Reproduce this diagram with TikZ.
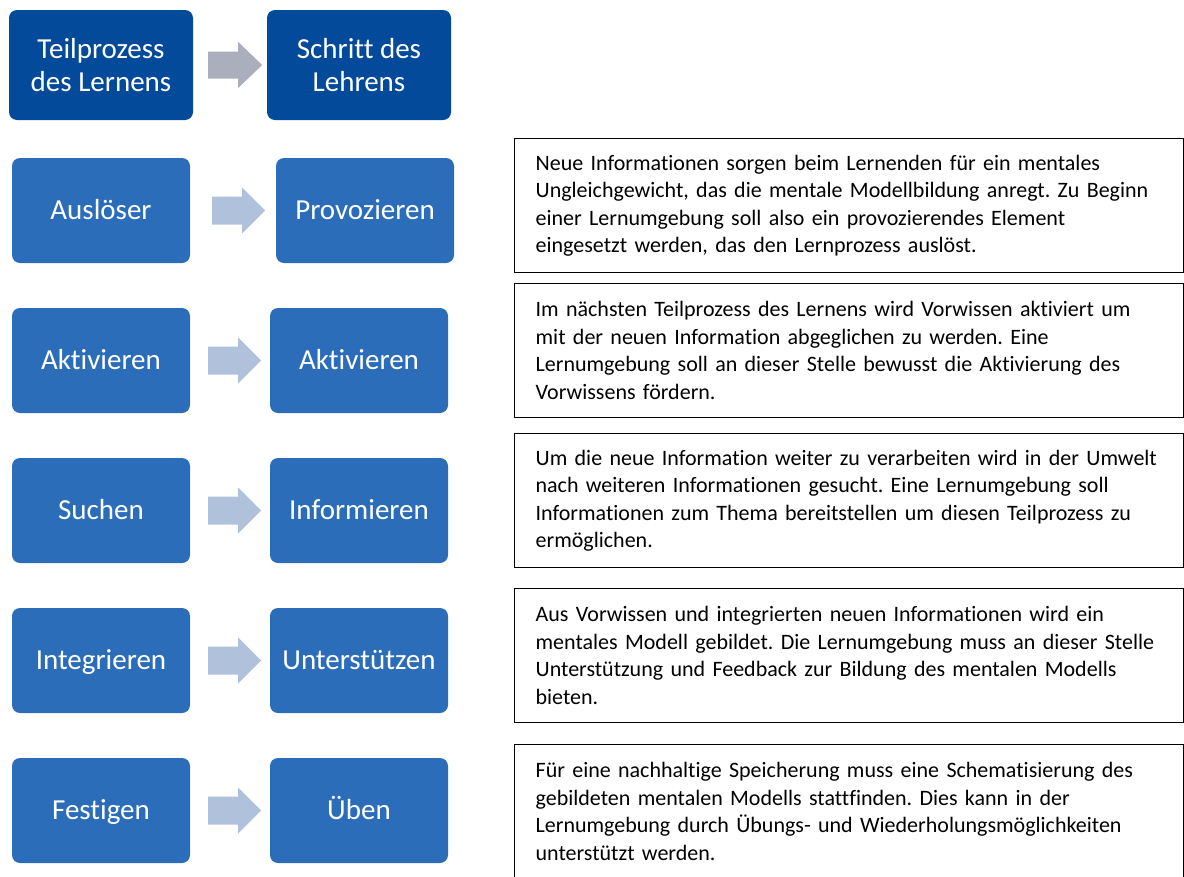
\documentclass[tikz,border=0pt]{standalone}
\usepackage{fontspec}
\setmainfont{Carlito}[Ligatures=NoCommon]
\usetikzlibrary{calc}
\frenchspacing
\definecolor{headblue}{RGB}{3,74,154}
\definecolor{stepblue}{RGB}{44,109,186}
\definecolor{headarrow}{RGB}{171,175,189}
\definecolor{steparrow}{RGB}{176,193,220}
\tikzset{
  bluebox/.style={rounded corners=8pt,text=white,align=center,inner sep=0pt,
    font=\fontsize{29}{33}\selectfont},
  stepbox/.style={bluebox,fill=stepblue,minimum width=178pt,minimum height=105pt,
    text height=18.6pt,text depth=0pt},
  headbox/.style={bluebox,fill=headblue,minimum width=184pt,minimum height=110pt},
  infobox/.style={draw=black,line width=1.3pt,anchor=north west,align=left,
    text width=627pt,inner xsep=21pt,inner ysep=0pt,minimum height=134pt,
    font=\fontsize{22}{27.5}\selectfont},
}
\begin{document}
\begin{tikzpicture}[x=1pt,y=-1pt]
  \useasboundingbox (0,0) rectangle (1184,876);
  % Kopfzeile
  \node[headbox] (l0) at (101,65) {Teilprozess\\des Lernens};
  \node[headbox] (r0) at (359,65) {Schritt des\\Lehrens};
  \fill[headarrow] ($(l0.east)+(15,0)$) ++(0,-13.5) -- ++(30,0) -- ++(0,-9.5)
    -- ++(24,23) -- ++(-24,23) -- ++(0,-9.5) -- ++(-30,0) -- cycle;

  % Schritte
  \node[stepbox] (l1) at (101,210.5) {Auslöser};
  \node[stepbox] (r1) at (365,210.5) {Provozieren};
  \node[stepbox] (l2) at (101,360.5) {Aktivieren};
  \node[stepbox] (r2) at (359,360.5) {Aktivieren};
  \node[stepbox] (l3) at (101,510.5) {Suchen};
  \node[stepbox] (r3) at (359,510.5) {Informieren};
  \node[stepbox] (l4) at (101,660.5) {Integrieren};
  \node[stepbox] (r4) at (359,660.5) {Unterstützen};
  \node[stepbox] (l5) at (101,810.5) {Festigen};
  \node[stepbox] (r5) at (359,810.5) {Üben};

  \foreach \n/\dx in {1/22,2/18,3/18,4/18,5/18}
    \fill[steparrow] ($(l\n.east)+(\dx,0)$) ++(0,-14) -- ++(30,0) -- ++(0,-9)
      -- ++(23,23) -- ++(-23,23) -- ++(0,-9) -- ++(-30,0) -- cycle;

  % Erklaerungen
  \node[infobox] (info1) at (514,138) {Neue Informationen sorgen beim Lernenden für ein mentales\\
    Ungleichgewicht, das die mentale Modellbildung anregt. Zu Beginn\\
    einer Lernumgebung soll also ein provozierendes Element\\
    eingesetzt werden, das den Lernprozess auslöst.};
  \node[infobox] (info2) at (514,283) {Im nächsten Teilprozess des Lernens wird Vorwissen aktiviert um\\
    mit der neuen Information abgeglichen zu werden. Eine\\
    Lernumgebung soll an dieser Stelle bewusst die Aktivierung des\\
    Vorwissens fördern.};
  \node[infobox] (info3) at (514,433) {Um die neue Information weiter zu verarbeiten wird in der Umwelt\\
    nach weiteren Informationen gesucht. Eine Lernumgebung soll\\
    Informationen zum Thema bereitstellen um diesen Teilprozess zu\\
    ermöglichen.};
  \node[infobox] (info4) at (514,588) {Aus Vorwissen und integrierten neuen Informationen wird ein\\
    mentales Modell gebildet. Die Lernumgebung muss an dieser Stelle\\
    Unterstützung und Feedback zur Bildung des mentalen Modells\\
    bieten.};
  \node[infobox] (info5) at (514,744) {Für eine nachhaltige Speicherung muss eine Schematisierung des\\
    gebildeten mentalen Modells stattfinden. Dies kann in der\\
    Lernumgebung durch Übungs- und Wiederholungsmöglichkeiten\\
    unterstützt werden.};
\end{tikzpicture}
\end{document}
